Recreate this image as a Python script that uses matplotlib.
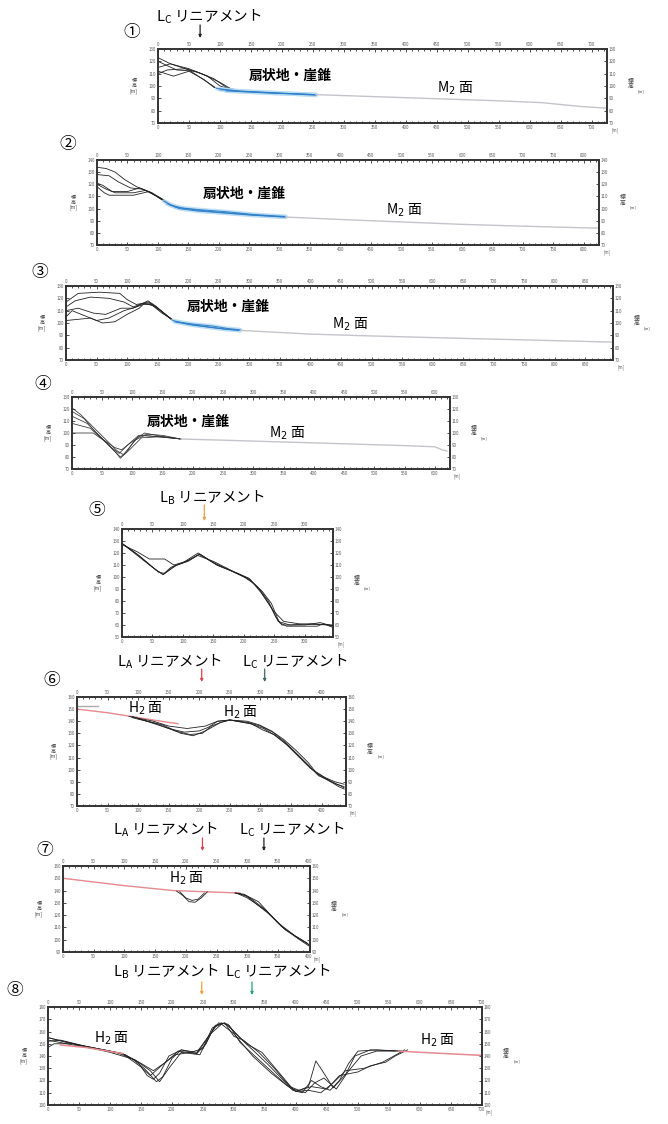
import matplotlib.pyplot as plt
from matplotlib.ticker import MultipleLocator
from matplotlib.transforms import blended_transform_factory

plt.rcParams['font.family'] = ['Noto Sans CJK JP', 'DejaVu Sans']

# ---- profile data (distance [m], elevation [m]) ----
P1_LINES = [
    ([0, 20, 50, 80, 100, 120], [123, 118, 114, 108, 100, 97]),
    ([0, 30, 60, 90, 110, 125], [120, 113, 112, 106, 99, 97]),
    ([0, 20, 50, 80, 95, 110], [115, 118, 113, 103, 98, 97]),
    ([0, 15, 45, 70, 100, 120], [110, 113, 114, 110, 103, 97]),
    ([0, 25, 50, 75, 90, 105], [112, 108, 112, 105, 99, 97]),
]
P1_FAN = [
    ([95, 130, 170, 210, 255], [98, 96, 95, 94, 93]),
    ([100, 140, 180, 220, 255], [97, 95.5, 94.5, 93.5, 92.5]),
    ([110, 150, 190, 230, 255], [96, 95, 94, 93.5, 93]),
]
P1_M2 = ([255, 400, 550, 620, 680, 725], [93, 90.5, 88, 86.5, 83.5, 82])

P2_LINES = [
    ([0, 15, 30, 45, 65, 90, 110, 130], [134, 133, 130, 124, 118, 113, 107, 101]),
    ([0, 20, 35, 55, 75, 95, 115, 130], [128, 127, 122, 117, 116, 111, 105, 101]),
    ([0, 10, 25, 50, 70, 90, 110, 130], [121, 119, 114, 114, 117, 113, 106, 101]),
    ([0, 15, 30, 60, 80, 100, 120, 130], [120, 116, 113, 113, 115, 110, 104, 101]),
    ([0, 12, 20, 60, 85, 105, 130], [118, 113, 111, 111, 114, 108, 101]),
]
P2_FAN = [
    ([110, 130, 160, 200, 250, 310], [106, 101, 99, 97, 95, 93]),
    ([115, 135, 165, 205, 255, 310], [104, 100, 98, 96.5, 94.5, 93]),
    ([120, 140, 170, 210, 260, 310], [103, 100.5, 99, 97.5, 95, 93.5]),
]
P2_M2 = ([310, 400, 500, 600, 700, 812, 825], [93, 91, 89, 87, 85.5, 84, 84])

P3_LINES = [
    ([0, 20, 55, 88, 100, 115, 126, 135, 148, 160, 175], [117, 124, 125, 124, 119, 115, 116, 117, 113, 108, 102]),
    ([0, 15, 40, 70, 95, 110, 126, 137, 150, 162, 178], [113, 118, 121, 120, 117, 113, 116, 116, 112, 107, 101]),
    ([0, 20, 45, 65, 90, 110, 126, 134, 146, 158, 172], [110, 112, 108, 107, 112, 112, 116, 118, 114, 109, 103]),
    ([0, 10, 30, 50, 70, 95, 115, 126, 140, 155, 176], [105, 110, 106, 102, 104, 110, 113, 115, 115, 110, 102]),
    ([0, 20, 40, 60, 80, 100, 120, 128, 142, 157, 180], [102, 103, 104, 100, 101, 107, 112, 116, 114, 108, 101]),
]
P3_FAN = [
    ([175, 200, 230, 260, 285], [102, 99, 97, 95, 94]),
    ([178, 205, 235, 262, 285], [101, 98.5, 96.5, 95, 94]),
    ([180, 210, 240, 265, 285], [101, 99, 97.5, 95.5, 94.5]),
]
P3_M2 = ([285, 400, 500, 611, 775, 895], [94, 91, 89.5, 88, 86, 84.5])

P4_LINES = [
    ([0, 15, 35, 55, 75, 85, 95, 110, 125, 150, 180], [121, 115, 105, 95, 85, 82, 88, 97, 99, 98, 95]),
    ([0, 20, 40, 60, 80, 90, 105, 120, 150, 180], [118, 112, 100, 90, 80, 84, 95, 100, 97, 95]),
    ([0, 25, 45, 65, 78, 92, 110, 140, 180], [114, 108, 98, 88, 83, 90, 98, 97, 95]),
    ([0, 30, 50, 70, 82, 100, 120, 160, 180], [108, 104, 95, 88, 86, 93, 98, 96, 95]),
    ([0, 35, 55, 72, 80, 95, 115, 150, 180], [100, 100, 93, 84, 79, 86, 96, 97, 95]),
]
P4_M2 = ([180, 250, 350, 450, 550, 600, 612, 620], [95, 94, 92.5, 91, 89.5, 88.5, 86, 85])

P5_LINES = [
    ([0, 20, 45, 67, 80, 100, 125, 150, 175, 200, 215, 230, 245, 258, 270, 320, 330, 346],
     [128, 120, 110, 102, 108, 112, 120, 112, 106, 100, 95, 88, 78, 62, 59, 59, 61, 58]),
    ([0, 25, 45, 70, 85, 105, 128, 155, 180, 205, 222, 240, 252, 262, 300, 325, 346],
     [127, 121, 115, 115, 110, 113, 119, 110, 105, 99, 92, 80, 67, 60, 60, 62, 59]),
    ([0, 30, 60, 70, 90, 110, 126, 160, 190, 210, 228, 248, 265, 290, 340, 346],
     [128, 117, 104, 103, 110, 114, 119, 109, 103, 98, 87, 72, 63, 61, 60, 59]),
    ([0, 25, 55, 68, 85, 108, 124, 150, 185, 208, 225, 243, 256, 275, 310, 346],
     [128, 119, 106, 102, 109, 113, 118, 113, 104, 99, 90, 76, 63, 60, 61, 60]),
]

P6_LINES = [
    ([90, 130, 160, 185, 205, 220, 235, 250, 280, 300, 320, 340, 360, 380, 395, 410, 425, 437],
     [143, 138, 132, 129, 130, 136, 139, 141, 139, 136, 131, 123, 113, 103, 95, 92, 88, 86]),
    ([90, 120, 150, 175, 200, 215, 230, 250, 283, 305, 325, 345, 365, 385, 400, 415, 430, 437],
     [144, 139, 134, 131, 132, 135, 140, 141, 138, 134, 128, 120, 110, 100, 94, 90, 87, 85]),
    ([85, 125, 150, 180, 210, 230, 250, 278, 298, 318, 338, 358, 378, 392, 408, 422, 437],
     [144, 140, 136, 134, 136, 140, 141, 140, 137, 132, 125, 116, 106, 97, 93, 90, 88]),
    ([100, 140, 170, 190, 210, 235, 250, 285, 303, 322, 342, 362, 382, 398, 412, 428, 437],
     [142, 137, 130, 128, 132, 139, 141, 138, 133, 129, 121, 111, 101, 96, 91, 86, 84]),
]
P6_H2 = ([0, 50, 100, 150, 165], [150, 147, 143, 139, 138])
P6_STUB = ([0, 35], [152.5, 152.5])

P7_H2 = ([0, 100, 180, 288], [150, 144, 140, 138])
P7_DIP = [
    ([185, 195, 205, 215, 225, 235], [139.5, 136, 131, 130.5, 134, 139]),
    ([190, 200, 210, 220, 230], [139, 134, 132, 133, 138]),
]
P7_LINES = [
    ([280, 295, 310, 330, 355, 380, 398], [138, 137, 132, 124, 111, 102, 97]),
    ([285, 300, 315, 335, 360, 385, 400], [138, 135, 129, 121, 109, 100, 95]),
    ([280, 298, 318, 340, 362, 388, 400], [138, 136, 131, 119, 108, 100, 96]),
    ([282, 300, 312, 332, 352, 378, 395, 400], [138, 134, 130, 123, 113, 103, 98, 96]),
]

P8_LINES = [
    ([0, 30, 60, 100, 125, 145, 160, 170, 180, 195, 215, 240, 255, 268, 280, 292, 310, 340, 370, 395, 410, 425, 440, 455, 470, 485, 500, 530, 570],
     [155, 151, 148, 144, 141, 135, 124, 121, 126, 140, 145, 142, 150, 164, 167, 165, 151, 137, 123, 112, 110, 120, 115, 112, 120, 134, 144, 145, 144]),
    ([0, 20, 60, 110, 135, 155, 175, 185, 200, 215, 240, 260, 275, 290, 305, 330, 355, 380, 400, 420, 432, 445, 460, 480, 495, 520, 570],
     [152, 153, 148, 143, 138, 130, 119, 123, 138, 145, 143, 157, 167, 166, 157, 145, 133, 120, 111, 115, 136, 126, 114, 125, 140, 145, 144]),
    ([0, 10, 40, 100, 140, 165, 180, 195, 215, 245, 265, 285, 300, 320, 345, 370, 395, 415, 430, 445, 465, 485, 505, 530, 560],
     [147, 150, 150, 143, 137, 128, 119, 130, 143, 141, 163, 167, 160, 150, 143, 128, 113, 110, 118, 122, 113, 128, 140, 144, 144]),
    ([0, 50, 120, 150, 170, 190, 210, 240, 262, 280, 300, 330, 360, 385, 400, 420, 440, 460, 480, 510, 540, 565, 575],
     [155, 149, 142, 134, 128, 135, 144, 142, 158, 166, 158, 140, 126, 116, 111, 112, 110, 118, 128, 130, 135, 142, 145]),
    ([0, 30, 120, 150, 165, 185, 205, 230, 250, 270, 285, 300, 315, 340, 365, 390, 405, 425, 450, 470, 500, 520, 545, 560, 580],
     [153, 150, 142, 131, 124, 133, 141, 143, 146, 165, 167, 156, 153, 143, 130, 115, 112, 115, 113, 124, 127, 132, 135, 140, 145]),
]
P8_H2_LEFT = ([20, 60, 121], [149, 147, 142])
P8_H2_RIGHT = ([566, 620, 700], [144, 142.5, 140.5])

W, H = 668, 1124
fig = plt.figure(figsize=(W / 100, H / 100), dpi=100)

BLACK = '#222222'
FAN_BLUE = '#2f7fc8'
FAN_GLOW = '#b9dcf5'
M2_GRAY = '#c4c4cc'
H2_RED = '#e58a8f'
TICK_C = '#5a5a5a'


def panel(box, xlim, ylim):
    x0, y0, x1, y1 = box
    ax = fig.add_axes([x0 / W, 1 - y1 / H, (x1 - x0) / W, (y1 - y0) / H])
    ax.set_xlim(*xlim)
    ax.set_ylim(*ylim)
    ax.xaxis.set_major_locator(MultipleLocator(50))
    ax.xaxis.set_minor_locator(MultipleLocator(10))
    ax.yaxis.set_major_locator(MultipleLocator(10))
    ax.tick_params(which='both', direction='in', top=True, right=True,
                   labeltop=True, labelright=True, labelsize=3.2,
                   labelcolor=TICK_C, pad=1.5, width=0.6, color='#333333')
    ax.tick_params(which='major', length=2.5)
    ax.tick_params(which='minor', length=1.5)
    for s in ax.spines.values():
        s.set_linewidth(1.4)
        s.set_color('#333333')
    ax.annotate('[m]', xy=(1, 0), xycoords='axes fraction', xytext=(4, -7),
                textcoords='offset pixels', fontsize=3.2, color=TICK_C,
                ha='left', va='center')
    ax.annotate('標\n高\n[m]', xy=(0, 0.5), xycoords='axes fraction',
                xytext=(-24, 0), textcoords='offset pixels', fontsize=3.6,
                color='#444444', ha='center', va='center', linespacing=1.0)
    ax.annotate('標\n高', xy=(1, 0.5), xycoords='axes fraction',
                xytext=(24, 2), textcoords='offset pixels', fontsize=4.2,
                color='#444444', ha='center', va='center', linespacing=1.0)
    ax.annotate('[m]', xy=(1, 0.5), xycoords='axes fraction',
                xytext=(31, -5), textcoords='offset pixels', fontsize=3.0,
                color='#444444', ha='left', va='center')
    return ax


def draw_lines(ax, lines, color=BLACK, lw=0.6):
    for xs, ys in lines:
        ax.plot(xs, ys, color=color, lw=lw, solid_joinstyle='round')


def draw_fan(ax, lines):
    for xs, ys in lines:
        ax.plot(xs, ys, color=FAN_GLOW, lw=3.0, alpha=0.8, solid_capstyle='round')
    for xs, ys in lines:
        ax.plot(xs, ys, color=FAN_BLUE, lw=0.7)


def text(x, y, s, size, **kw):
    fig.text(x / W, 1 - y / H, s, fontsize=size, ha='center', va='center', **kw)


def marker(ax, xm, y_top, y_bot, color):
    tr = blended_transform_factory(ax.transData, fig.transFigure)
    ax.annotate('', xy=(xm, 1 - y_bot / H), xytext=(xm, 1 - y_top / H),
                xycoords=tr, textcoords=tr, annotation_clip=False,
                arrowprops=dict(arrowstyle='-|>', color=color, lw=0.9,
                                mutation_scale=4, shrinkA=0, shrinkB=0))


# ① -- ④ : fan / talus and M2 surface
ax1 = panel((158, 49, 607, 123), (0, 725), (70, 130))
draw_lines(ax1, P1_LINES)
draw_fan(ax1, P1_FAN)
ax1.plot(*P1_M2, color=M2_GRAY, lw=1.0)

ax2 = panel((97, 160, 599, 245), (0, 825), (70, 140))
draw_lines(ax2, P2_LINES)
draw_fan(ax2, P2_FAN)
ax2.plot(*P2_M2, color=M2_GRAY, lw=1.0)

ax3 = panel((66, 286, 613, 360), (0, 895), (70, 130))
draw_lines(ax3, P3_LINES)
draw_fan(ax3, P3_FAN)
ax3.plot(*P3_M2, color=M2_GRAY, lw=1.0)

ax4 = panel((72, 397, 450, 469), (0, 625), (70, 130))
draw_lines(ax4, P4_LINES, color='#333333', lw=0.55)
ax4.plot(*P4_M2, color=M2_GRAY, lw=1.0)

# ⑤ -- ⑧ : lineament crossings
ax5 = panel((122, 529, 333, 637), (0, 346), (50, 140))
draw_lines(ax5, P5_LINES)

ax6 = panel((77, 697, 346, 806), (0, 440), (70, 160))
ax6.plot(*P6_STUB, color='#aaaaaa', lw=1.0)
ax6.plot(*P6_H2, color=H2_RED, lw=1.0)
draw_lines(ax6, P6_LINES)

ax7 = panel((63, 866, 310, 952), (0, 402), (90, 160))
ax7.plot(*P7_H2, color=H2_RED, lw=1.0)
draw_lines(ax7, P7_DIP)
draw_lines(ax7, P7_LINES)

ax8 = panel((48, 1007, 482, 1105), (0, 700), (100, 180))
draw_lines(ax8, P8_LINES)
ax8.plot(*P8_H2_LEFT, color=H2_RED, lw=1.1)
ax8.plot(*P8_H2_RIGHT, color=H2_RED, lw=1.1)

# panel numbers
for num, (x, y) in zip('①②③④⑤⑥⑦⑧', [(132, 33), (68, 145), (40, 272), (43, 385),
                                       (97, 511), (52, 681), (45, 850), (15, 990)]):
    text(x, y, num, 12)

# surface names
for x, y in [(290, 76), (244, 194), (228, 307), (188, 422)]:
    text(x, y, '扇状地・崖錐', 10, fontweight='bold')
for x, y in [(455, 88), (404, 210), (350, 324), (287, 433)]:
    text(x, y, 'M$_2$ 面', 10)
for x, y in [(146, 708), (241, 712), (187, 878), (112, 1038), (438, 1040)]:
    text(x, y, 'H$_2$ 面', 10)

# lineaments
LA = 'L$_\\mathregular{A}$ リニアメント'
LB = 'L$_\\mathregular{B}$ リニアメント'
LC = 'L$_\\mathregular{C}$ リニアメント'
text(209, 17, LC, 10.5)
marker(ax1, 68, 25, 38, BLACK)

text(212, 498, LB, 10.5)
marker(ax5, 135, 505, 521, '#f0a040')

text(170, 662, LA, 10.5)
text(295, 662, LC, 10.5)
marker(ax6, 204, 669, 682, '#e04050')
marker(ax6, 307, 669, 682, '#446666')

text(166, 830, LA, 10.5)
text(292, 830, LC, 10.5)
marker(ax7, 227, 838, 851, '#e04050')
marker(ax7, 327, 838, 851, BLACK)

text(166, 972, LB, 10.5)
text(278, 972, LC, 10.5)
marker(ax8, 248, 982, 995, '#f0a040')
marker(ax8, 329, 982, 995, '#20a070')

fig.savefig('out.png', dpi=100)
